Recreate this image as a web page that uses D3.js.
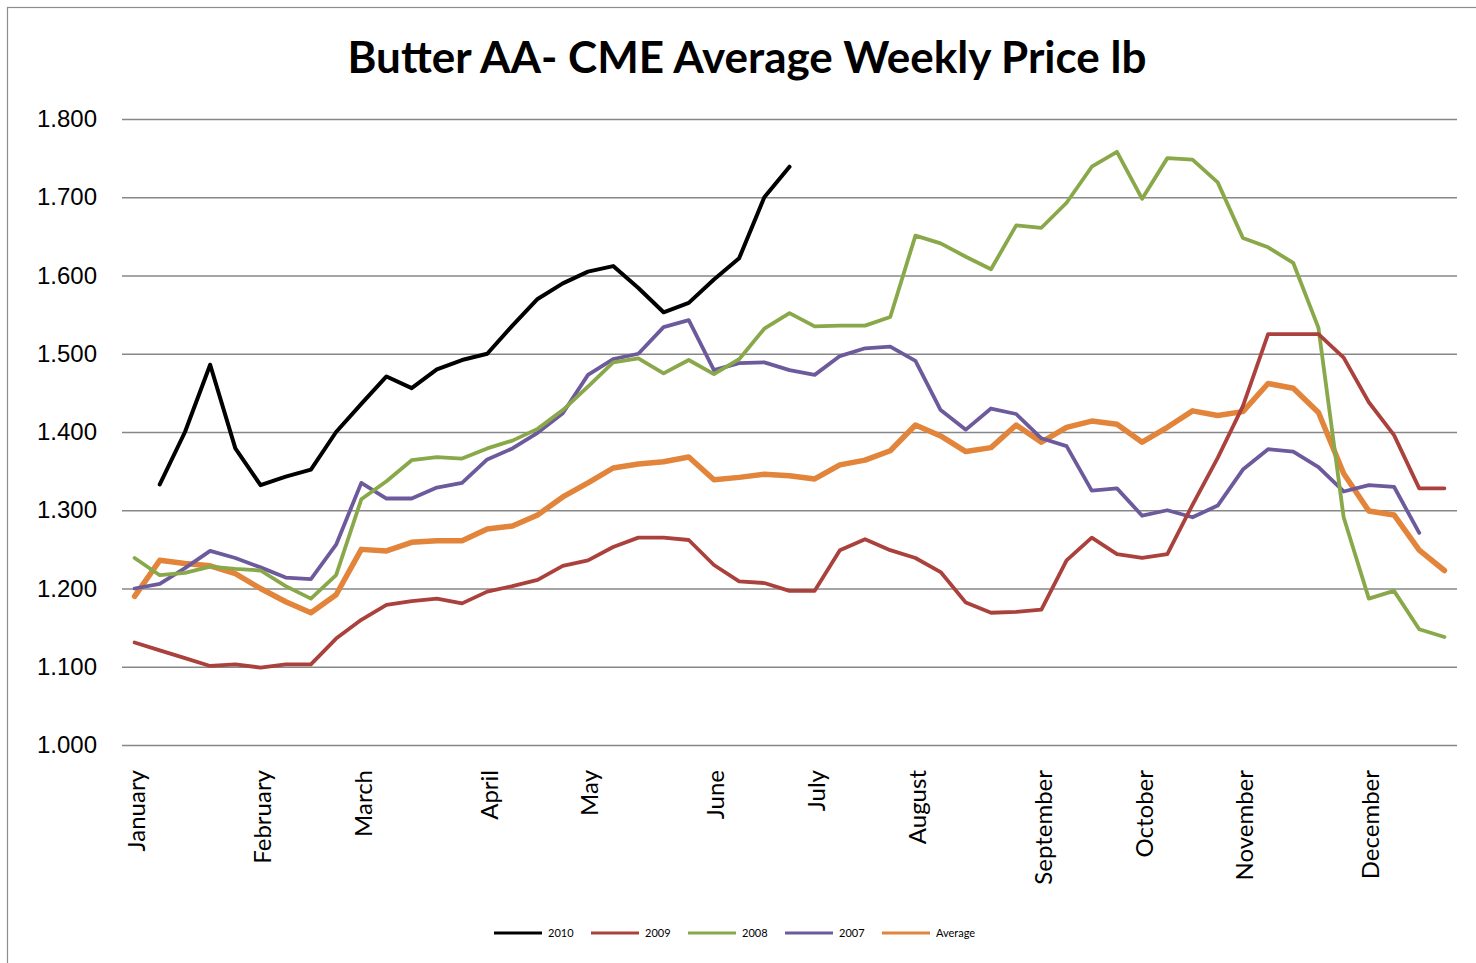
<!DOCTYPE html>
<html>
<head>
<meta charset="utf-8">
<script src="https://cdn.jsdelivr.net/npm/d3@7"></script>
<style>
    body { margin: 0; background: #fff; }
</style>
</head>
<body>
<svg></svg>
<script>
// week index of the first week of each month, and its label
const monthWeeks = [0, 5, 9, 14, 18, 23, 27, 31, 36, 40, 44, 49]
const monthNames = ["January", "February", "March", "April", "May", "June",
    "July", "August", "September", "October", "November", "December"]
const weekCount = 53

const seriesNames = ["2010", "2009", "2008", "2007", "Average"]

const price2010 = [null, 1.333, 1.400, 1.486, 1.379, 1.332, 1.343, 1.352, 1.400, 1.436, 1.471, 1.456, 1.480, 1.492,
    1.500, 1.536, 1.570, 1.590, 1.605, 1.612, 1.584, 1.553, 1.565, 1.595, 1.622, 1.700, 1.739,
    null, null, null, null, null, null, null, null, null, null, null, null, null, null,
    null, null, null, null, null, null, null, null, null, null, null, null]
const price2009 = [1.131, 1.121, 1.111, 1.101, 1.103, 1.099, 1.103, 1.103, 1.136, 1.160, 1.179, 1.184, 1.187, 1.181,
    1.196, 1.203, 1.211, 1.229, 1.236, 1.253, 1.265, 1.265, 1.262, 1.230, 1.209, 1.207, 1.197,
    1.197, 1.249, 1.263, 1.249, 1.239, 1.221, 1.182, 1.169, 1.170, 1.173, 1.236, 1.265, 1.244,
    1.239, 1.244, 1.307, 1.367, 1.433, 1.525, 1.525, 1.525, 1.495, 1.438, 1.396, 1.328, 1.328]
const price2008 = [1.239, 1.217, 1.220, 1.228, 1.225, 1.223, 1.203, 1.187, 1.217, 1.314, 1.337, 1.364, 1.368, 1.366,
    1.379, 1.389, 1.404, 1.428, 1.458, 1.489, 1.494, 1.475, 1.492, 1.474, 1.493, 1.532, 1.552,
    1.535, 1.536, 1.536, 1.547, 1.651, 1.641, 1.624, 1.608, 1.664, 1.661, 1.693, 1.739, 1.758,
    1.698, 1.750, 1.748, 1.719, 1.648, 1.636, 1.616, 1.533, 1.291, 1.187, 1.197, 1.148, 1.138]
const price2007 = [1.200, 1.206, 1.226, 1.248, 1.239, 1.227, 1.214, 1.212, 1.256, 1.335, 1.315, 1.315, 1.329, 1.335,
    1.365, 1.379, 1.399, 1.424, 1.473, 1.493, 1.500, 1.534, 1.543, 1.479, 1.488, 1.489, 1.479,
    1.473, 1.497, 1.507, 1.509, 1.491, 1.428, 1.403, 1.430, 1.423, 1.392, 1.382, 1.325, 1.328,
    1.293, 1.300, 1.291, 1.306, 1.352, 1.378, 1.375, 1.355, 1.324, 1.332, 1.330, 1.271, null]
const priceAverage = [1.190, 1.236, 1.232, 1.229, 1.219, 1.200, 1.183, 1.169, 1.192, 1.250, 1.248, 1.259, 1.261, 1.261,
    1.276, 1.280, 1.294, 1.317, 1.335, 1.354, 1.359, 1.362, 1.368, 1.339, 1.342, 1.346, 1.344,
    1.340, 1.358, 1.364, 1.376, 1.409, 1.395, 1.375, 1.380, 1.409, 1.387, 1.406, 1.414, 1.410,
    1.387, 1.406, 1.427, 1.421, 1.426, 1.462, 1.456, 1.425, 1.347, 1.299, 1.294, 1.249, 1.223]

const yTicks = [1.0, 1.1, 1.2, 1.3, 1.4, 1.5, 1.6, 1.7, 1.8]

const svgWidth = 1476
const svgHeight = 963
const margins = { top: 119, bottom: 218, left: 122, right: 19 }
const plotWidth = svgWidth - margins.left - margins.right
const plotHeight = svgHeight - margins.top - margins.bottom

const colors = ["#000000", "#AB413D", "#89A84A", "#6D5A9C", "#E2843A"]
const widths = [4, 3.8, 3.8, 3.8, 5.5]

const svg = d3.select("svg")
    .attr("width", svgWidth)
    .attr("height", svgHeight)

// chart frame
svg.append("rect")
    .attr("x", 7.5)
    .attr("y", 7.5)
    .attr("width", svgWidth + 20)
    .attr("height", svgHeight + 20)
    .attr("fill", "none")
    .attr("stroke", "#8c8c8c")
    .attr("stroke-width", 1.2)

svg.append("text")
    .text("Butter AA- CME Average Weekly Price lb")
    .attr("x", 747)
    .attr("y", 73)
    .attr("text-anchor", "middle")
    .attr("font-family", "Lato, 'Open Sans', sans-serif")
    .attr("font-weight", "bold")
    .attr("font-size", 44)

const xScale = d3.scaleBand()
    .domain(d3.range(weekCount))
    .range([0, plotWidth])
const yScale = d3.scaleLinear()
    .domain([1.0, 1.8])
    .range([plotHeight, 0])

const plotGroup = svg.append("g")
    .attr("transform", `translate(${margins.left},${margins.top})`)

const yAxis = plotGroup.append("g")
    .call(d3.axisLeft(yScale)
        .tickValues(yTicks)
        .tickFormat(d3.format(".3f"))
        .tickSize(-plotWidth)
        .tickPadding(25))
yAxis.select(".domain").remove()
yAxis.selectAll(".tick line")
    .attr("stroke", "#878787")
    .attr("stroke-width", 1.6)
yAxis.selectAll(".tick text")
    .attr("font-family", "'Liberation Sans', Arial, sans-serif")
    .attr("font-size", 24)
    .attr("fill", "#000")

const xAxis = plotGroup.append("g")
    .attr("transform", `translate(0,${plotHeight})`)
    .call(d3.axisBottom(xScale)
        .tickValues(monthWeeks)
        .tickFormat((d) => monthNames[monthWeeks.indexOf(d)])
        .tickSize(0))
xAxis.select(".domain").remove()
xAxis.selectAll(".tick text")
    .attr("transform", "rotate(-90)")
    .attr("text-anchor", "end")
    .attr("x", -25)
    .attr("y", 2)
    .attr("dy", "0.35em")
    .attr("font-family", "Lato, 'Open Sans', sans-serif")
    .attr("font-size", 24)
    .attr("fill", "#000")

const allSeries = [price2010, price2009, price2008, price2007, priceAverage]

const line = d3.line()
    .defined((d) => d != null)
    .x((d, i) => xScale(i) + xScale.bandwidth() / 2)
    .y((d) => yScale(d))

// draw the older years first so 2010 and the average sit on top as in the original
const drawOrder = [4, 3, 2, 1, 0]
plotGroup.selectAll(".series")
    .data(drawOrder)
    .join("path")
    .attr("class", "series")
    .attr("d", (k) => line(allSeries[k]))
    .attr("fill", "none")
    .attr("stroke", (k) => colors[k])
    .attr("stroke-width", (k) => widths[k])
    .attr("stroke-linejoin", "round")
    .attr("stroke-linecap", "round")

// legend
const legend = svg.append("g")
    .attr("transform", "translate(494,933)")
const legendItems = legend.selectAll(".item")
    .data(seriesNames)
    .join("g")
    .attr("class", "item")
    .attr("transform", (d, i) => `translate(${i * 97},0)`)
legendItems.append("line")
    .attr("x1", 0)
    .attr("x2", 48)
    .attr("y1", 0)
    .attr("y2", 0)
    .attr("stroke", (d, i) => colors[i])
    .attr("stroke-width", 3)
legendItems.append("text")
    .text((d) => d)
    .attr("x", 54)
    .attr("y", 0)
    .attr("dy", "0.35em")
    .attr("font-family", "Lato, 'Open Sans', sans-serif")
    .attr("font-size", 11)
</script>
</body>
</html>
